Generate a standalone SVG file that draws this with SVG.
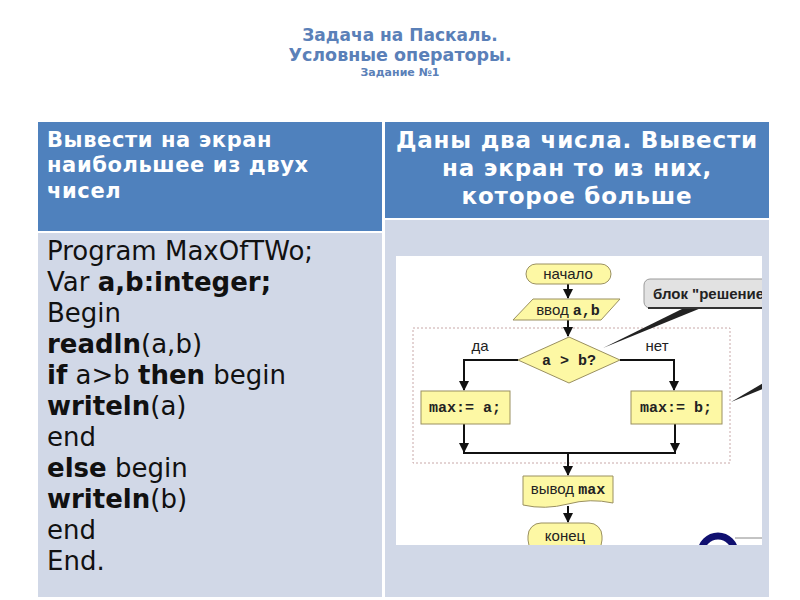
<svg xmlns="http://www.w3.org/2000/svg" width="800" height="600" viewBox="0 0 800 600">
<defs>
<style>
.title{font-family:"DejaVu Sans",sans-serif;font-weight:bold;fill:#5a80b8;text-anchor:middle}
.hdrl{font-family:"DejaVu Sans",sans-serif;font-weight:bold;font-size:21px;letter-spacing:0.6px;fill:#ffffff}
.hdrr{font-family:"DejaVu Sans",sans-serif;font-weight:bold;font-size:23px;letter-spacing:0.8px;fill:#ffffff}
.code{font-family:"DejaVu Sans",sans-serif;font-size:26px;fill:#111111}
.code .b{font-weight:bold}
.fc{font-family:"Liberation Sans",Arial,sans-serif;font-size:15px;fill:#222}
.mono{font-family:"Liberation Mono","Courier New",monospace;font-weight:bold;font-size:15px;fill:#222}
.shape{fill:#fdf8a4;stroke:#9a9060;stroke-width:1}
.ln{stroke:#111;stroke-width:2;fill:none}
</style>
<marker id="ah" viewBox="0 0 10 10" refX="9" refY="5" markerWidth="5" markerHeight="5" orient="auto">
<path d="M0,0 L10,5 L0,10 z" fill="#111"/>
</marker>
<clipPath id="img">
<rect x="396" y="256" width="366" height="289"/>
</clipPath>
</defs>
<rect width="800" height="600" fill="#ffffff"/>
<g id="title">
<text class="title" x="400" y="41" font-size="17">Задача на Паскаль.</text>
<text class="title" x="400" y="61" font-size="17.5">Условные операторы.</text>
<text class="title" x="400" y="76" font-size="11">Задание №1</text>
</g>
<g id="table">
<rect x="38" y="122" width="344" height="109" fill="#4f81bd"/>
<rect x="385" y="122" width="384" height="96" fill="#4f81bd"/>
<rect x="38" y="233" width="344" height="364" fill="#d1d8e7"/>
<rect x="385" y="220" width="384" height="377" fill="#d1d8e7"/>
</g>
<g id="header-left">
<text class="hdrl" x="47" y="147">Вывести на экран</text>
<text class="hdrl" x="47" y="172">наибольшее из двух</text>
<text class="hdrl" x="47" y="198">чисел</text>
</g>
<g id="header-right" text-anchor="middle">
<text class="hdrr" x="577" y="148">Даны два числа. Вывести</text>
<text class="hdrr" x="577" y="176">на экран то из них,</text>
<text class="hdrr" x="577" y="204">которое больше</text>
</g>
<g id="code">
<text class="code" x="47" y="260">Program MaxOfTWo;</text>
<text class="code" x="47" y="291">Var <tspan class="b">a,b:integer;</tspan></text>
<text class="code" x="47" y="322">Begin</text>
<text class="code" x="47" y="353"><tspan class="b">readln</tspan>(a,b)</text>
<text class="code" x="47" y="384"><tspan class="b">if</tspan> a&gt;b <tspan class="b">then</tspan> begin</text>
<text class="code" x="47" y="415"><tspan class="b">writeln</tspan>(a)</text>
<text class="code" x="47" y="446">end</text>
<text class="code" x="47" y="477"><tspan class="b">else</tspan> begin</text>
<text class="code" x="47" y="508"><tspan class="b">writeln</tspan>(b)</text>
<text class="code" x="47" y="539">end</text>
<text class="code" x="47" y="570">End.</text>
</g>
<g id="flowchart" clip-path="url(#img)">
<rect x="396" y="256" width="366" height="289" fill="#ffffff"/>
<rect x="413" y="328" width="317" height="135" fill="none" stroke="#c8a8a8" stroke-width="1" stroke-dasharray="2,2"/>
<g id="connectors">
<line class="ln" x1="568" y1="284" x2="568" y2="298" marker-end="url(#ah)"/>
<line class="ln" x1="568" y1="320" x2="568" y2="336" marker-end="url(#ah)"/>
<polyline class="ln" points="518,360 464,360 464,390" marker-end="url(#ah)"/>
<polyline class="ln" points="620,360 674,360 674,390" marker-end="url(#ah)"/>
<line class="ln" x1="464" y1="424" x2="464" y2="452" marker-end="url(#ah)"/>
<line class="ln" x1="675" y1="424" x2="675" y2="452" marker-end="url(#ah)"/>
<line class="ln" x1="463" y1="453" x2="676" y2="453"/>
<line class="ln" x1="568" y1="453" x2="568" y2="475" marker-end="url(#ah)"/>
<line class="ln" x1="568" y1="506" x2="568" y2="522" marker-end="url(#ah)"/>
</g>
<g id="start">
<rect class="shape" x="526" y="264" width="85" height="20" rx="10"/>
<text class="fc" x="568" y="279" text-anchor="middle">начало</text>
</g>
<g id="input">
<polygon class="shape" points="533,299 620,299 601,320 513,320"/>
<text x="568" y="315" text-anchor="middle"><tspan class="fc">ввод </tspan><tspan class="mono">a,b</tspan></text>
</g>
<g id="decision">
<polygon class="shape" points="569,337 620,360 569,383 518,360"/>
<text class="mono" x="569" y="365" text-anchor="middle">a &gt; b?</text>
</g>
<text class="fc" x="480" y="351" font-size="12" text-anchor="middle">да</text>
<text class="fc" x="657" y="351" font-size="12" text-anchor="middle">нет</text>
<g id="max-a">
<rect class="shape" x="421" y="391" width="89" height="33"/>
<text class="mono" x="465" y="412" text-anchor="middle">max:= a;</text>
</g>
<g id="max-b">
<rect class="shape" x="631" y="391" width="91" height="33"/>
<text class="mono" x="676" y="412" text-anchor="middle">max:= b;</text>
</g>
<g id="output">
<path class="shape" d="M523,476 L613,476 L613,503 Q590,498 568,504 Q545,510 523,505 Z"/>
<text x="568" y="494" text-anchor="middle"><tspan class="fc">вывод </tspan><tspan class="mono">max</tspan></text>
</g>
<g id="end">
<rect class="shape" x="528" y="523" width="74" height="30" rx="13"/>
<text class="fc" x="565" y="541" text-anchor="middle">конец</text>
</g>
<g id="callout">
<polygon points="688,306 706,306 603,348" fill="#222"/>
<rect x="644" y="279" width="150" height="29" rx="6" fill="#e2e2e2" stroke="#9a9a9a" stroke-width="1"/>
<line x1="648" y1="308" x2="790" y2="308" stroke="#333" stroke-width="2"/>
<text class="fc" x="653" y="299" font-weight="bold">блок "решение"</text>
<polygon points="731,402 770,379 770,386" fill="#222"/>
</g>
<circle cx="718" cy="553" r="17" fill="none" stroke="#101070" stroke-width="7"/>
<line x1="735" y1="538" x2="762" y2="538" stroke="#888" stroke-width="1"/>
</g>
</svg>
